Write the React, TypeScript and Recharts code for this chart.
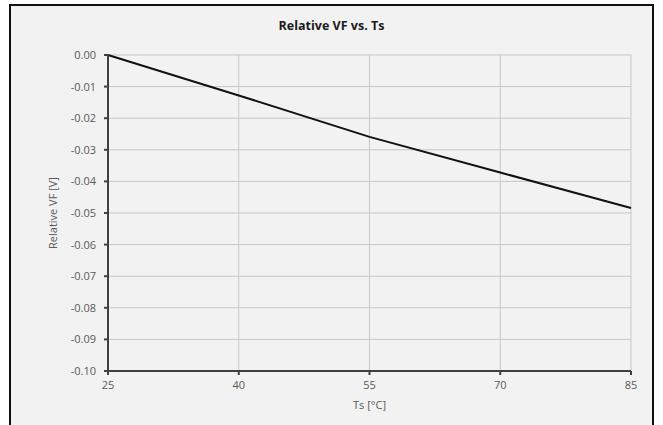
import { CartesianGrid, Line, LineChart, XAxis, YAxis } from "recharts";

const temps = [25, 40, 55, 70, 85];
const relVf = [0, -0.0128, -0.0259, -0.0372, -0.0484];
const xTicks = [25, 40, 55, 70, 85];
const yTicks = [0, -0.01, -0.02, -0.03, -0.04, -0.05, -0.06, -0.07, -0.08, -0.09, -0.1];

const data = temps.map((t, i) => ({ ts: t, vf: relVf[i] }));

const font = "'Open Sans', sans-serif";
const tickStyle = { fill: "#595959", fontSize: 11, fontFamily: font };

export default function App() {
  return (
    <div style={{ position: "fixed", left: 0, top: 0, width: 663, height: 425, background: "#fff" }}>
      <div
        style={{
          position: "absolute",
          left: 9,
          top: 4,
          width: 641,
          height: 425,
          border: "2px solid #111",
          background: "#f2f2f2"
        }}
      />
      <div
        style={{
          position: "absolute",
          left: 0,
          top: 17,
          width: 663,
          textAlign: "center",
          fontFamily: font,
          fontWeight: 700,
          fontSize: 12.5,
          color: "#1a1a1a"
        }}
      >
        Relative VF vs. Ts
      </div>
      <div style={{ position: "absolute", left: 0, top: 0 }}>
        <LineChart width={663} height={425} data={data} margin={{ top: 55, right: 32, left: 48, bottom: 24 }}>
          <CartesianGrid stroke="#c6c6c6" strokeWidth={1} />
          <XAxis
            dataKey="ts"
            type="number"
            domain={[25, 85]}
            ticks={xTicks}
            height={30}
            stroke="#404040"
            strokeWidth={2}
            tickSize={4}
            tickMargin={6}
            tick={tickStyle}
            label={{ value: "Ts [°C]", position: "insideBottom", offset: -8, style: { ...tickStyle } }}
          />
          <YAxis
            type="number"
            domain={[-0.1, 0]}
            ticks={yTicks}
            width={60}
            stroke="#404040"
            strokeWidth={2}
            tickSize={4}
            tickMargin={8}
            tick={tickStyle}
            tickFormatter={(v: number) => v.toFixed(2)}
            label={{ value: "Relative VF [V]", angle: -90, position: "insideLeft", offset: 5, style: { ...tickStyle, textAnchor: "middle" } }}
          />
          <Line
            type="linear"
            dataKey="vf"
            stroke="#111"
            strokeWidth={2}
            dot={false}
            isAnimationActive={false}
          />
        </LineChart>
      </div>
    </div>
  );
}
